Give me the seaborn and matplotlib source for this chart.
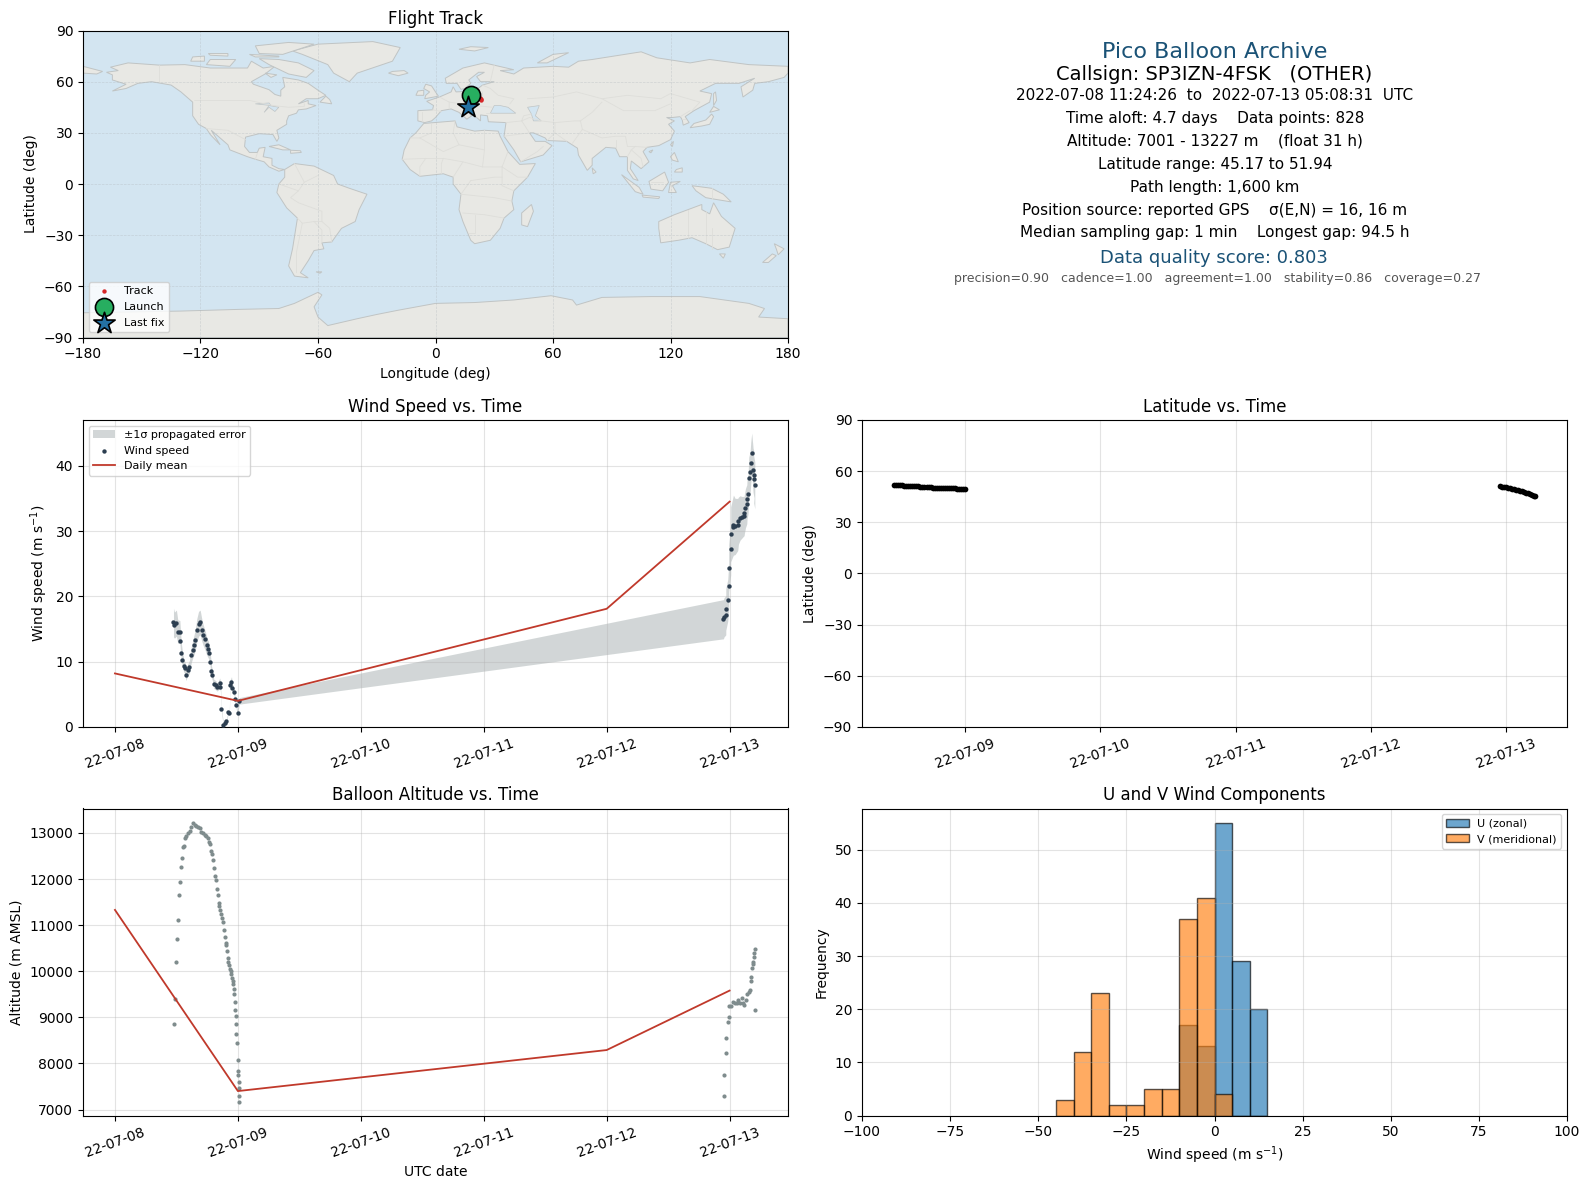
import numpy as np
import pandas as pd
import matplotlib
matplotlib.use("Agg")
import matplotlib.pyplot as plt
import matplotlib.dates as mdates
from matplotlib.patches import Polygon
import seaborn as sns

BASE = pd.Timestamp("2022-07-08")

# ---- wind speed (day offset from 07-08, m/s, sigma)
wind_days = [.476,.484,.500,.511,.528,.533,.541,.549,.560,.571,.576,.593,.606,.620,.631,.642,.653,.666,.680,.693,
             .707,.717,.731,.745,.758,.769,.777,.785,.793,.804,.820,.831,.853,.858,.866,.882,.893,.907,.920,.930,
             .937,.948,.956,.970,.976,.984,.997,1.011,
             4.950,4.955,4.969,4.969,4.985,4.993,4.993,5.009,5.009,5.026,5.031,5.045,5.066,5.072,5.085,5.099,5.118,
             5.121,5.129,5.140,5.142,5.150,5.156,5.167,5.172,5.180,5.191,5.199,5.196,5.205]
wind_vals = [16.0,15.6,15.9,14.6,14.6,13.1,11.4,10.3,9.4,9.0,7.9,8.8,9.2,11.0,11.8,12.5,13.3,14.8,15.8,16.0,
             14.8,14.1,13.4,12.5,11.9,11.3,9.9,8.5,7.9,6.6,6.4,6.1,6.7,6.2,2.7,0.3,0.6,0.9,2.3,2.1,
             6.5,6.9,5.9,5.4,4.3,3.4,2.2,4.0,
             16.5,16.8,17.1,18.0,19.4,21.6,24.3,27.2,29.5,30.6,30.9,30.7,31.0,31.6,32.0,32.1,32.3,
             32.7,33.5,34.1,34.9,35.6,38.1,39.0,40.4,42.0,39.3,38.6,37.9,37.0]
wind_sigma = [2.2,2.0,2.0,1.8,1.7,1.6,1.3,1.2,1.0,.9,.8,.9,1.0,1.2,1.3,1.5,1.6,1.8,1.9,1.9,
              1.7,1.6,1.5,1.4,1.3,1.2,1.1,.9,.8,.7,.7,.6,.8,.7,.4,.2,.2,.2,.3,.3,
              .7,.8,.7,.6,.5,.4,.3,.5,
              3.0,3.0,3.0,3.2,3.2,3.4,3.6,3.9,4.2,4.5,4.6,4.3,4.0,3.6,3.4,3.2,3.0,
              3.0,3.0,3.0,3.0,3.0,3.2,3.2,3.2,3.0,3.4,3.5,3.6,3.6]
mean_days = [0, 1, 4, 5]
wind_mean = [8.2, 4.0, 18.1, 34.5]

# ---- altitude
alt_days = [.480,.485,.496,.504,.512,.520,.528,.537,.545,.553,.561,.569,.580,.593,.607,.621,.634,.648,.661,.678,
            .688,.702,.715,.729,.743,.756,.764,.772,.780,.789,.797,.805,.813,.821,.829,.837,.846,.848,.854,.862,
            .867,.875,.886,.894,.902,.905,.911,.919,.921,.927,.932,.940,.946,.951,.957,.962,.967,.970,.976,.976,
            .984,.984,.984,.992,1.0,1.0,1.003,1.008,1.011,1.008,1.01,
            4.957,4.957,4.973,4.973,4.989,4.997,4.997,5.014,5.03,5.043,5.057,5.070,5.087,5.103,5.111,5.119,5.130,
            5.141,5.154,5.163,5.176,5.176,5.184,5.190,5.192,5.201,5.201,5.203,5.209]
alt_vals = [8848,9391,10196,10696,11109,11652,11935,12261,12457,12688,12725,12891,12942,13000,13050,13138,13210,13181,13152,13138,
            13109,13029,12993,12957,12928,12891,12797,12768,12616,12543,12413,12239,12065,11978,11783,11652,11471,11413,11326,11239,
            11152,11072,10891,10746,10623,10565,10435,10283,10210,10130,10043,10007,9935,9862,9790,9732,9609,9500,9326,9152,
            9022,8848,8630,8435,8072,7826,7739,7587,7457,7283,7160,
            7288,7741,8216,8561,8906,9014,9237,9245,9331,9309,9302,9367,9309,9424,9309,9259,9381,
            9496,9540,9597,9784,9871,10065,10158,10209,10317,10403,10482,9165]
alt_mean = [11330, 7400, 8290, 9580]

# ---- latitude
lat_days = [.476,.49,.505,.52,.535,.55,.565,.58,.595,.61,.625,.64,.655,.67,.685,.70,.715,.73,.745,.76,.775,.79,.805,.82,
            .835,.85,.865,.88,.895,.91,.925,.94,.955,.97,.985,1.0,
            4.955,4.97,4.985,5.0,5.015,5.03,5.045,5.06,5.075,5.09,5.105,5.12,5.135,5.15,5.165,5.18,5.195,5.205,5.214]
lat_vals = [51.9,51.8,51.8,51.7,51.6,51.5,51.5,51.4,51.4,51.3,51.2,51.2,51.1,51.0,51.0,50.8,50.7,50.6,50.5,50.4,50.3,50.3,50.2,50.2,
            50.1,50.1,50.0,50.0,50.0,49.9,49.9,49.8,49.7,49.6,49.5,49.3,
            51.2,51.0,50.8,50.5,50.2,49.9,49.6,49.3,49.0,48.7,48.4,48.1,47.8,47.4,47.1,46.6,46.1,45.6,45.17]

# ---- histogram
hist_edges = [-45,-40,-35,-30,-25,-20,-15,-10,-5,0,5,10,15]
u_counts = [0,0,0,0,0,0,0,17,13,55,29,20]
v_counts = [3,12,23,2,2,5,5,37,41,4,0,0]

# ---- track
track_lon = [18.2,19.5,20.5,21.5,22.5,23.3,23.2,20.0,19.0,18.5,18.0,16.8]
track_lat = [51.9,51.5,51.2,50.6,50.2,49.8,49.2,50.8,49.5,48.0,46.5,45.17]
launch_lon, launch_lat = 18.2, 51.9
last_lon, last_lat = 16.8, 45.17

# ---- land outlines (lon, lat)
north_america = [(-168,65.5),(-162,66.5),(-166,68.5),(-157,71),(-141,69.7),(-128,70),(-115,68),(-108,68),(-96,68),(-94,72),(-88,68),(-82,69),(-87,64.5),(-94,60),(-93,58.5),(-85,55.3),(-82,52.5),(-79,51.5),(-79,55),(-77,57),(-78,62.5),(-70,61),(-65,59),(-60,55),(-56,52),(-60,50),(-66,50),(-70,47),(-65,49),(-65,47),(-61,46),(-66,44),(-70,43.5),(-71,41.5),(-75,40),(-76,37),(-76,35),(-81,31.5),(-80,27),(-81,25),(-83,29),(-90,29.5),(-97,27.5),(-97.5,22),(-95,18.5),(-91,18.5),(-90,21),(-87,21.5),(-88,16),(-83.5,15),(-83.5,11),(-80,9),(-77,8.5),(-80,7.5),(-85,10),(-87.5,13),(-92,14.5),(-96,16),(-105,20),(-106,23),(-112,29),(-114.5,31.5),(-110,23),(-115,29),(-117,32.5),(-121,35),(-124,40),(-124,48),(-130,54),(-135,58),(-145,60),(-152,59),(-158,56),(-165,54.5),(-158,58.5),(-165,61),(-165,64)]
greenland = [(-73,78),(-60,82),(-32,83.5),(-18,80),(-22,72),(-40,65),(-44,60),(-52,65),(-55,70),(-68,76)]
baffin = [(-80,73),(-70,71),(-62,66.5),(-66,62.5),(-75,64.5),(-85,70),(-90,73.5)]
victoria = [(-117,70),(-105,69),(-102,73),(-115,73)]
ellesmere = [(-90,76.5),(-78,76),(-62,82),(-75,83),(-92,81)]
banks = [(-125,72),(-118,72),(-118,75),(-124,74.5)]
devon = [(-95,76),(-80,75),(-80,74.5),(-92,74.5)]
melville = [(-115,75.5),(-106,75),(-106,76.5),(-116,76.5)]
southampton = [(-87,65),(-81,64),(-84,62.5)]
newfoundland = [(-59,48),(-53,47),(-54,49.5),(-56,51.5)]
cuba = [(-85,22),(-80,23),(-74,20),(-78,20)]
hispaniola = [(-74,19.8),(-69,19.5),(-68.5,18.5),(-74,18)]
south_america = [(-77,8.5),(-72,12),(-62,10.5),(-52,5),(-50,0),(-44,-2.5),(-35,-6),(-39,-15),(-41,-22),(-48,-26),(-53,-34),(-58,-34.5),(-57,-38),(-62,-39),(-65,-45),(-69,-52),(-65,-55),(-72,-54),(-75,-48),(-73,-38),(-70.5,-20),(-76,-14),(-81,-5),(-80,0),(-77,4)]
africa = [(-6,35.5),(10,37),(11,33.5),(20,31),(25,31.5),(32,31),(33,28),(37,19),(43,11.5),(51,12),(47,4),(40,-4),(39,-10),(40,-15),(35,-20),(33,-26),(28,-33),(20,-35),(18,-33),(14,-22),(12,-15),(13,-6),(9,0),(9,4),(4,6),(-4,5),(-8,4.5),(-13,8.5),(-17,14.5),(-16,20),(-13,27),(-10,30)]
eurasia = [(-9,37),(-9,43),(-1.5,43.5),(-1,46),(-4.5,48.5),(2,51),(8,54),(9,57),(10.5,54),(20,54.5),(24,58),(30,60),(23,60),(21,63),(25,65.5),(22,65.5),(17,61),(18,59),(15,56),(13,55.5),(11,59),(5.5,59),(5,62),(14,68),(25,71),(40,67),(33,66.5),(40,64.5),(45,68),(60,69),(68,68.5),(73,72),(80,73),(105,77.5),(113,74),(130,71),(140,73),(160,70),(180,69),(180,65),(178,62.5),(170,60),(163,59),(162,55),(157,51),(156,57),(163,62),(155,59),(143,59),(135,54.5),(141,53),(140,48),(132,43),(127.5,39.5),(129.5,36),(126.5,34.5),(126,37.5),(125,39.5),(121,39),(118,39),(122,37),(119,35),(122,31),(120,26),(114,22.5),(108,21.5),(106,19),(109,13),(105,9),(100,13.5),(99.5,9),(103.5,2),(101,3),(98,8),(98,16),(94,16),(92,21),(87,21.5),(80,15),(80,11),(77.5,8),(73,17),(72.5,21),(67,25),(57,25.5),(56,27),(50,30),(48,30),(51,25),(56,25),(59.5,22.5),(55,17),(43.5,13),(40,20),(35,28),(36,36),(27,36.5),(26.5,40),(23,40.5),(23,37),(20,40),(13.5,45.5),(18.5,40),(16,38),(12,42),(8,44),(3,43),(0,39),(-2,37),(-5.5,36)]
chukotka = [(-180,69),(-170,66),(-173,64.5),(-180,65)]
britain = [(-5.5,50),(1.5,51.5),(0,54),(-2,57.5),(-5,58.5),(-6,56),(-3,54),(-5,52)]
ireland = [(-10,52),(-6,52),(-6,55),(-9,54.5)]
iceland = [(-24,65),(-19,63.5),(-14,65),(-16,66.5),(-22,66)]
svalbard = [(12,79),(20,78),(27,80),(18,80.5)]
novaya = [(52,71),(57,71),(68,77),(60,76)]
sakhalin = [(142,46),(143.5,49),(143,54),(142,53)]
honshu = [(130,33),(136,34),(140,35),(142,39.5),(141,41),(138,37.5),(132,35.5)]
hokkaido = [(140,42),(145,43.5),(142,45.5)]
taiwan = [(120,23),(121.5,25),(121,22)]
hainan = [(109,19),(111,20),(110,18.3)]
luzon = [(120,16),(122,18.5),(124,13),(121,14)]
mindanao = [(122,7),(126,7),(126,9.5),(123,8.5)]
borneo = [(109,1.5),(117,7),(119,1),(116,-4),(110,-3)]
sumatra = [(95,5.5),(104,-2),(106,-6),(102,-4.5)]
java = [(105.5,-6.5),(114.5,-7.5),(114,-8.5),(106,-7.7)]
sulawesi = [(119,-5),(120,1),(125,1.5),(121,-1),(123,-5)]
new_guinea = [(131,-1),(141,-2.5),(147,-6),(151,-10.5),(143,-9),(138,-8),(133,-4)]
sri_lanka = [(80,9.5),(82,7),(80.5,6)]
australia = [(114,-22),(122,-18),(129,-15),(136,-12),(136,-15),(140,-17.5),(142,-11),(146,-19),(153,-26),(150,-37),(144,-38.5),(138,-35),(131,-31.5),(124,-33),(115,-34.5),(114,-26)]
tasmania = [(145,-41),(148,-41),(147,-43.5)]
nz_north = [(173,-35),(178,-38),(175,-41.5),(174,-38)]
nz_south = [(172,-41),(174,-42),(170,-46),(167,-46)]
madagascar = [(49,-12),(50,-16),(47,-25),(44,-24),(44,-17)]
falklands = [(-61,-51.5),(-58,-51.5),(-59,-52.3)]
antarctica = [(-180,-75.5),(-130,-74.5),(-100,-73.5),(-80,-73),(-72,-70),(-60,-63.5),(-58,-65),(-62,-72),(-60,-78),(-55,-83),(-40,-79),(-30,-76.5),(-19,-74),(0,-70),(20,-69.5),(40,-68),(59,-65.5),(70,-68),(72,-71),(85,-66.5),(110,-66),(135,-66),(160,-70),(168,-73),(165,-78),(180,-79),(180,-90),(-180,-90)]
land_shapes = [north_america,greenland,baffin,victoria,ellesmere,banks,devon,melville,southampton,newfoundland,cuba,hispaniola,
               south_america,africa,eurasia,chukotka,britain,ireland,iceland,svalbard,novaya,sakhalin,honshu,hokkaido,taiwan,hainan,
               luzon,mindanao,borneo,sumatra,java,sulawesi,new_guinea,sri_lanka,australia,tasmania,nz_north,nz_south,madagascar,falklands,antarctica]
black_sea = [(28,41.5),(41,41.5),(37,45),(33,46),(30,46)]
caspian = [(47,45),(53,46),(51,40),(54,37),(50,37),(49,41)]
superior = [(-92,47),(-85,47.5),(-84,46),(-88,46.5)]
michigan_huron = [(-87.5,42),(-85,46),(-80,45),(-82,42.5),(-85,45)]
water_shapes = [black_sea,caspian,superior,michigan_huron]
borders = [
    [(-123,49),(-95,49),(-83,46),(-75,45),(-67,45.5),(-67,47)],[(-141,69.7),(-141,60)],[(-117,32.5),(-106,31.5),(-97,26)],
    [(-92,14.5),(-91,18)],[(-72,12),(-67,1),(-70,-4),(-74,-8),(-70,-11),(-58,-16),(-58,-22),(-54,-26),(-53,-34)],[(-60,5),(-67,1)],
    [(-80,0),(-75,-2),(-70,-4)],[(-70.5,-20),(-68,-23),(-71,-40),(-71,-52)],[(-58,-22),(-62,-22),(-68,-23)],[(-62,-22),(-58,-27),(-58,-34.5)],
    [(-2,35),(-2,30),(-8,27),(-13,27)],[(-8,27),(4,19),(12,23),(25,20)],[(10,37),(9,30),(12,23)],[(25,31.5),(25,20),(24,10),(34,10),(37,19)],
    [(-17,14.5),(-5,15),(4,15),(14,13),(24,10)],[(-8,4.5),(-8,10),(-5,15)],[(3,6),(3,12),(4,15)],[(9,4),(14,13)],[(34,10),(42,4),(47,4)],[(34,10),(34,-1),(40,-4)],
    [(13,-6),(30,-8),(39,-10)],[(14,-17),(25,-18),(35,-20)],[(20,-18),(20,-29),(17,-29)],[(18,2),(30,4),(34,4)],[(18,2),(13,-6)],
    [(2,51),(7,48),(7,44)],[(-1.5,43.5),(3,42.5)],[(-7,37),(-7,42)],[(14,54),(15,51),(24,50),(24,54)],[(7,48),(13,47),(20,46),(29,45)],
    [(24,58),(28,56),(32,52),(40,50),(38,47)],[(28,60),(30,70)],[(28,41.5),(26,41.5)],[(36,36),(44,37),(48,30)],[(44,37),(45,40),(49,41)],
    [(44,37),(48,39),(54,37),(61,36),(61,30),(57,25.5)],[(61,30),(67,25)],[(61,36),(71,37),(74,37),(75,32),(70,24)],
    [(47,50),(60,51),(72,54),(85,50),(98,52),(115,50),(120,53),(135,48),(131,43)],[(85,50),(96,43),(112,43),(120,47)],[(74,37),(80,42),(85,48)],
    [(75,32),(85,27),(92,28),(97,28),(98,22),(102,22),(108,21.5)],[(92,21),(92,26)],[(98,16),(100,20),(102,22)],[(100,20),(105,15),(106,10)],
    [(125,39.5),(130,43)],[(127.5,38),(126,38)],[(35,28),(48,30)],[(43.5,13),(52,19),(55,22)],[(141,-2.5),(141,-9)],
    [(129,-15),(129,-31.5)],[(138,-16),(138,-35)],[(141,-26),(141,-38)],[(116,1),(110,1)]]

# ---- style colours
OCEAN = "#d3e5f1"; LAND = "#e8e8e4"; COAST = "#c0c4c4"; BORDER = "#dededa"
RED = "#c0392b"; DARK = "#2c3e50"; GREY = "#7f8c8d"; TITLE_BLUE = "#1a5276"

W, H = 1590, 1189
fig = plt.figure(figsize=(W/100, H/100), dpi=100)
def axes_px(l, t, r, b):
    return fig.add_axes([l/W, 1-b/H, (r-l)/W, (b-t)/H])

def dates(days):
    return BASE + pd.to_timedelta(np.asarray(days, dtype=float), unit="D")

def date_axis(ax, lo, hi):
    ax.set_xlim(dates([lo])[0], dates([hi])[0])
    ax.xaxis.set_major_locator(mdates.DayLocator())
    ax.xaxis.set_major_formatter(mdates.DateFormatter("%y-%m-%d"))
    ax.tick_params(axis="x", rotation=20)
    ax.grid(True, alpha=0.35, linewidth=0.8)
    ax.set_xlabel("")

LEFT_L, LEFT_R, RIGHT_L, RIGHT_R = 83, 788, 862, 1567
ROW2_T, ROW2_B, ROW3_T, ROW3_B = 420, 727, 808.5, 1115.5

# ---- map
ax_map = axes_px(LEFT_L, 30.5, LEFT_R, 337.5)
ax_map.set_facecolor(OCEAN)
for shape in land_shapes:
    ax_map.add_patch(Polygon(shape, closed=True, facecolor=LAND, edgecolor=COAST, linewidth=0.7, zorder=1.1))
for shape in water_shapes:
    ax_map.add_patch(Polygon(shape, closed=True, facecolor=OCEAN, edgecolor=COAST, linewidth=0.5, zorder=1.2))
for border in borders:
    xs, ys = zip(*border)
    ax_map.plot(xs, ys, color=BORDER, linewidth=0.6, zorder=1.3)
ax_map.set_xlim(-180, 180); ax_map.set_ylim(-90, 90)
ax_map.set_xticks(range(-180, 181, 60)); ax_map.set_yticks(range(-90, 91, 30))
ax_map.set_axisbelow("line")
ax_map.grid(True, linestyle="--", linewidth=0.5, color="#b0b8bc", alpha=0.45)
sns.scatterplot(x=track_lon, y=track_lat, ax=ax_map, color="#d62728", s=10, linewidth=0, zorder=3, label="Track")
sns.scatterplot(x=[launch_lon], y=[launch_lat], ax=ax_map, color="#27ae60", s=170, marker="o",
                edgecolor="black", linewidth=1.2, zorder=4, label="Launch")
sns.scatterplot(x=[last_lon], y=[last_lat], ax=ax_map, color="#2471a3", s=260, marker="*",
                edgecolor="black", linewidth=1.2, zorder=5, label="Last fix")
ax_map.legend(loc="lower left", fontsize=8)
ax_map.set_title("Flight Track", fontsize=12, pad=5)
ax_map.set_xlabel("Longitude (deg)", labelpad=4.5); ax_map.set_ylabel("Latitude (deg)")

# ---- info panel
info = [
    ("Pico Balloon Archive", 16, TITLE_BLUE, 1215, 52),
    ("Callsign: SP3IZN-4FSK   (OTHER)", 14, "black", 1214, 74.5),
    ("2022-07-08 11:24:26  to  2022-07-13 05:08:31  UTC", 11, "black", 1215, 95.5),
    ("Time aloft: 4.7 days    Data points: 828", 11, "black", 1215, 118),
    ("Altitude: 7001 - 13227 m    (float 31 h)", 11, "black", 1215, 140.5),
    ("Latitude range: 45.17 to 51.94", 11, "black", 1215, 164),
    ("Path length: 1,600 km", 11, "black", 1215, 187.5),
    ("Position source: reported GPS    \u03c3(E,N) = 16, 16 m", 11, "black", 1215, 210.5),
    ("Median sampling gap: 1 min    Longest gap: 94.5 h", 11, "black", 1215, 233),
    ("Data quality score: 0.803", 13, TITLE_BLUE, 1214, 258),
    ("precision=0.90   cadence=1.00   agreement=1.00   stability=0.86   coverage=0.27", 9, "#555555", 1218, 279),
]
for txt, size, col, xpx, ypx in info:
    fig.text(xpx/W, 1-ypx/H, txt, ha="center", va="center", fontsize=size, color=col)

# ---- wind
ax_w = axes_px(LEFT_L, ROW2_T, LEFT_R, ROW2_B)
w_x = dates(wind_days)
lower = np.array(wind_vals) - np.array(wind_sigma)
upper = np.array(wind_vals) + np.array(wind_sigma)
band = ax_w.fill_between(w_x, lower, upper, color="#7f8c8d", alpha=0.35, linewidth=0)
sns.scatterplot(x=w_x, y=wind_vals, ax=ax_w, color=DARK, s=10, linewidth=0, zorder=3)
w_points = ax_w.collections[-1]
sns.lineplot(x=dates(mean_days), y=wind_mean, ax=ax_w, color=RED, linewidth=1.3, zorder=4, errorbar=None)
w_line = ax_w.lines[-1]
ax_w.legend([band, w_points, w_line], ["\u00b11\u03c3 propagated error", "Wind speed", "Daily mean"], loc="upper left", fontsize=8)
date_axis(ax_w, -0.26, 5.475)
ax_w.set_ylim(0, 47)
ax_w.set_ylabel("Wind speed (m s$^{-1}$)")
ax_w.set_title("Wind Speed vs. Time", fontsize=12, pad=6)

# ---- latitude
ax_l = axes_px(RIGHT_L, ROW2_T, RIGHT_R, ROW2_B)
sns.scatterplot(x=dates(lat_days), y=lat_vals, ax=ax_l, color="black", s=17, linewidth=0, zorder=3)
date_axis(ax_l, 0.238, 5.451)
ax_l.set_ylim(-90, 90); ax_l.set_yticks(range(-90, 91, 30))
ax_l.set_ylabel("Latitude (deg)")
ax_l.set_title("Latitude vs. Time", fontsize=12, pad=6)

# ---- altitude
ax_a = axes_px(LEFT_L, ROW3_T, LEFT_R, ROW3_B)
sns.scatterplot(x=dates(alt_days), y=alt_vals, ax=ax_a, color=GREY, s=9, linewidth=0, zorder=3)
sns.lineplot(x=dates(mean_days), y=alt_mean, ax=ax_a, color=RED, linewidth=1.3, zorder=4, errorbar=None)
date_axis(ax_a, -0.26, 5.475)
ax_a.set_ylim(6870, 13530)
ax_a.set_xlabel("UTC date"); ax_a.set_ylabel("Altitude (m AMSL)")
ax_a.set_title("Balloon Altitude vs. Time", fontsize=12, pad=6)

# ---- histogram
ax_h = axes_px(RIGHT_L, ROW3_T, RIGHT_R, ROW3_B)
centers = (np.array(hist_edges[:-1]) + np.array(hist_edges[1:])) / 2
sns.histplot(x=centers, weights=u_counts, bins=hist_edges, ax=ax_h, color="#1f77b4", alpha=0.65,
             linewidth=1.0, label="U (zonal)")
sns.histplot(x=centers, weights=v_counts, bins=hist_edges, ax=ax_h, color="#ff7f0e", alpha=0.65,
             linewidth=1.0, label="V (meridional)")
for bar in ax_h.patches:
    bar.set_edgecolor((0, 0, 0, 0.65))
ax_h.set_xlim(-100, 100); ax_h.set_ylim(0, 57.75)
ax_h.grid(True, alpha=0.35, linewidth=0.8)
ax_h.legend(loc="upper right", fontsize=8)
ax_h.set_xlabel("Wind speed (m s$^{-1}$)"); ax_h.set_ylabel("Frequency")
ax_h.set_title("U and V Wind Components", fontsize=12, pad=6)

fig.savefig("out.png", dpi=100)
